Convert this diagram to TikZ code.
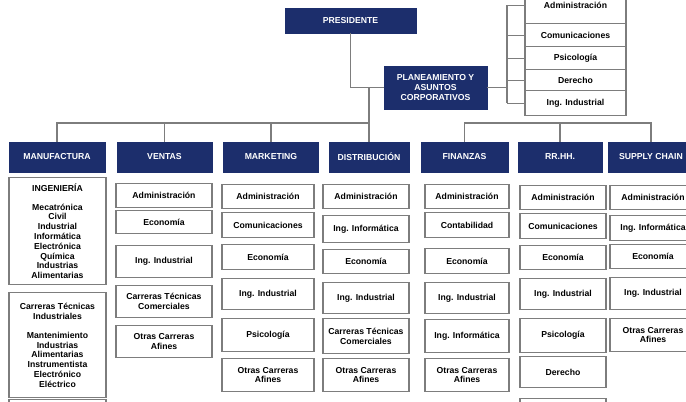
\documentclass[tikz,border=0pt]{standalone}
\usepackage{fontspec}
\setmainfont{Liberation Sans}
\definecolor{azul}{RGB}{28,46,108}
\definecolor{gris}{RGB}{125,125,125}
\begin{document}
\begin{tikzpicture}[x=0.75pt,y=-0.75pt,
        jefe/.style={fill=azul,draw=azul,text=white,font=\fontsize{6.5}{7.35}\selectfont\bfseries,align=center,inner sep=0pt},
        carrera/.style={fill=white,draw=gris,line width=0.9pt,font=\fontsize{6.5}{7.35}\selectfont\bfseries,align=center,inner sep=0pt,anchor=north},
        linea/.style={draw=gris,line width=0.9pt}]
        \def\px{0.75pt}
        \clip (0,0) rectangle (686,401);
        \fill[white] (0,0) rectangle (686,401);

        \node (pres) at (350.5,20.5) [jefe,minimum width=131*\px,minimum height=25*\px] {PRESIDENTE};
        \node (plan) at (435.5,87.5) [jefe,minimum width=103*\px,minimum height=43*\px] {PLANEAMIENTO Y\\ASUNTOS\\CORPORATIVOS};

        \node (man) at (57,157) [jefe,minimum width=96*\px,minimum height=30*\px] {MANUFACTURA};
        \node (ven) at (164.5,157) [jefe,minimum width=95*\px,minimum height=30*\px] {VENTAS};
        \node (mkt) at (271,157) [jefe,minimum width=95*\px,minimum height=30*\px] {MARKETING};
        \node (dis) at (369,157) [jefe,minimum width=80*\px,minimum height=30*\px] {DISTRIBUCIÓN};
        \node (fin) at (464.5,157) [jefe,minimum width=87*\px,minimum height=30*\px] {FINANZAS};
        \node (rrhh) at (560,157) [jefe,minimum width=84*\px,minimum height=30*\px] {RR.HH.};
        \node (sup) at (651,157) [jefe,minimum width=86*\px,minimum height=30*\px] {SUPPLY CHAIN};

        \node (ap1) at (575.5,-14) [carrera,minimum width=101*\px,minimum height=37*\px] {Administración};
        \node (ap2) at (575.5,23) [carrera,minimum width=101*\px,minimum height=23*\px] {Comunicaciones};
        \node (ap3) at (575.5,46) [carrera,minimum width=101*\px,minimum height=23*\px] {Psicología};
        \node (ap4) at (575.5,69) [carrera,minimum width=101*\px,minimum height=21*\px] {Derecho};
        \node (ap5) at (575.5,90) [carrera,minimum width=101*\px,minimum height=25*\px] {Ing. Industrial};

        \draw[linea] (pres.south) |- (plan.west);
        \coordinate (busi) at (369,123);
        \draw[linea] (dis.north |- plan.west) -- (dis.north);
        \draw[linea] (man.north) |- (busi);
        \draw[linea] (ven.north) -- (ven.north |- busi);
        \draw[linea] (mkt.north) -- (mkt.north |- busi);
        \coordinate (busd) at (560,123);
        \draw[linea] (fin.north) |- (busd) -| (sup.north);
        \draw[linea] (rrhh.north) -- (busd);
        \coordinate (llave) at (507,87.5);
        \draw[linea] (plan.east) -- (llave);
        \draw[linea] (llave |- ap1.west) -- (llave |- ap5.west);
        \draw[linea] (llave |- ap1.west) -- (ap1.west);
        \draw[linea] (llave |- ap2.west) -- (ap2.west);
        \draw[linea] (llave |- ap3.west) -- (ap3.west);
        \draw[linea] (llave |- ap4.west) -- (ap4.west);
        \draw[linea] (llave |- ap5.west) -- (ap5.west);

        \node (man1) at (57.5,177) [carrera,minimum width=97*\px,minimum height=107*\px] {INGENIERÍA\\[7pt]Mecatrónica\\Civil\\Industrial\\Informática\\Electrónica\\Química\\Industrias\\Alimentarias};
        \node (man2) at (57.5,292) [carrera,minimum width=97*\px,minimum height=105*\px] {Carreras Técnicas\\Industriales\\[7pt]Mantenimiento\\Industrias\\Alimentarias\\Instrumentista\\Electrónico\\Eléctrico};
        \node (man3) at (57.5,399) [carrera,minimum width=97*\px,minimum height=30*\px] {};

        \node (ven1) at (164,183) [carrera,minimum width=96*\px,minimum height=24*\px] {Administración};
        \node (ven2) at (164,210) [carrera,minimum width=96*\px,minimum height=23*\px] {Economía};
        \node (ven3) at (164,245) [carrera,minimum width=96*\px,minimum height=32*\px] {Ing. Industrial};
        \node (ven4) at (164,285) [carrera,minimum width=96*\px,minimum height=32*\px] {Carreras Técnicas\\Comerciales};
        \node (ven5) at (164,325) [carrera,minimum width=96*\px,minimum height=32*\px] {Otras Carreras\\Afines};

        \node (mkt1) at (268,184) [carrera,minimum width=92*\px,minimum height=24*\px] {Administración};
        \node (mkt2) at (268,212) [carrera,minimum width=92*\px,minimum height=25*\px] {Comunicaciones};
        \node (mkt3) at (268,244) [carrera,minimum width=92*\px,minimum height=25*\px] {Economía};
        \node (mkt4) at (268,278) [carrera,minimum width=92*\px,minimum height=31*\px] {Ing. Industrial};
        \node (mkt5) at (268,318) [carrera,minimum width=92*\px,minimum height=33*\px] {Psicología};
        \node (mkt6) at (268,358) [carrera,minimum width=92*\px,minimum height=33*\px] {Otras Carreras\\Afines};

        \node (dis1) at (366,184) [carrera,minimum width=86*\px,minimum height=24*\px] {Administración};
        \node (dis2) at (366,215) [carrera,minimum width=86*\px,minimum height=27*\px] {Ing. Informática};
        \node (dis3) at (366,249) [carrera,minimum width=86*\px,minimum height=24*\px] {Economía};
        \node (dis4) at (366,282) [carrera,minimum width=86*\px,minimum height=31*\px] {Ing. Industrial};
        \node (dis5) at (366,318) [carrera,minimum width=86*\px,minimum height=35*\px] {Carreras Técnicas\\Comerciales};
        \node (dis6) at (366,358) [carrera,minimum width=86*\px,minimum height=33*\px] {Otras Carreras\\Afines};

        \node (fin1) at (467,184) [carrera,minimum width=84*\px,minimum height=24*\px] {Administración};
        \node (fin2) at (467,212) [carrera,minimum width=84*\px,minimum height=25*\px] {Contabilidad};
        \node (fin3) at (467,248) [carrera,minimum width=84*\px,minimum height=25*\px] {Economía};
        \node (fin4) at (467,282) [carrera,minimum width=84*\px,minimum height=31*\px] {Ing. Industrial};
        \node (fin5) at (467,319) [carrera,minimum width=84*\px,minimum height=33*\px] {Ing. Informática};
        \node (fin6) at (467,358) [carrera,minimum width=84*\px,minimum height=33*\px] {Otras Carreras\\Afines};

        \node (rrhh1) at (563,185) [carrera,minimum width=86*\px,minimum height=24*\px] {Administración};
        \node (rrhh2) at (563,213) [carrera,minimum width=86*\px,minimum height=25*\px] {Comunicaciones};
        \node (rrhh3) at (563,245) [carrera,minimum width=86*\px,minimum height=24*\px] {Economía};
        \node (rrhh4) at (563,278) [carrera,minimum width=86*\px,minimum height=31*\px] {Ing. Industrial};
        \node (rrhh5) at (563,318) [carrera,minimum width=86*\px,minimum height=34*\px] {Psicología};
        \node (rrhh6) at (563,356) [carrera,minimum width=86*\px,minimum height=31*\px] {Derecho};
        \node (rrhh7) at (563,398) [carrera,minimum width=86*\px,minimum height=30*\px] {};

        \node (sup1) at (653,185) [carrera,minimum width=86*\px,minimum height=24*\px] {Administración};
        \node (sup2) at (653,215) [carrera,minimum width=86*\px,minimum height=25*\px] {Ing. Informática};
        \node (sup3) at (653,244) [carrera,minimum width=86*\px,minimum height=24*\px] {Economía};
        \node (sup4) at (653,277) [carrera,minimum width=86*\px,minimum height=32*\px] {Ing. Industrial};
        \node (sup5) at (653,318) [carrera,minimum width=86*\px,minimum height=33*\px] {Otras Carreras\\Afines};
\end{tikzpicture}
\end{document}
